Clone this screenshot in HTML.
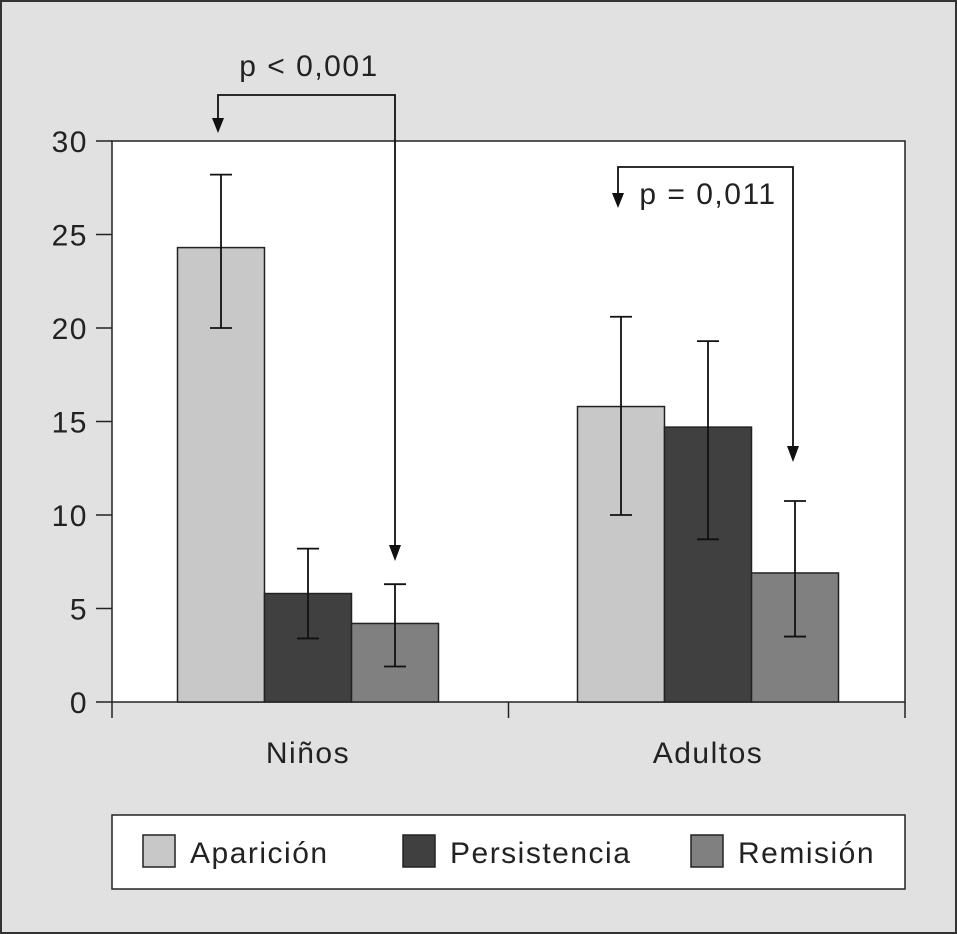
<!DOCTYPE html>
<html><head><meta charset="utf-8"><style>
html,body{margin:0;padding:0;background:#fff}
svg{display:block;font-family:"Liberation Sans",sans-serif}
text{letter-spacing:1.5px}
</style></head><body>
<svg id="chart" width="957" height="934" viewBox="0 0 957 934" xmlns="http://www.w3.org/2000/svg">
<rect x="1" y="1" width="955" height="932" fill="#e1e1e1" stroke="#333" stroke-width="2"/>
<rect x="112" y="141" width="793" height="561" fill="#fff" stroke="#222" stroke-width="1.5"/>
<g id="bars"></g>
<g id="axes"></g>
<g fill="none" stroke="#111" stroke-width="1.8">
<polyline points="218,131 218,95 395,95 395,558"/>
<path d="M212,118 L218,133 L224,118" fill="#111" stroke="none"/>
<path d="M389,545 L395,561 L401,545" fill="#111" stroke="none"/>
<polyline points="618,205 618,167 793,167 793,458"/>
<path d="M612,193 L618,208 L624,193" fill="#111" stroke="none"/>
<path d="M787,446 L793,462 L799,446" fill="#111" stroke="none"/>
</g>
<text x="309" y="76" font-size="30" text-anchor="middle" fill="#222">p &lt; 0,001</text>
<text x="708" y="204" font-size="30" text-anchor="middle" fill="#222">p = 0,011</text>
<g>
<rect x="112" y="815" width="793" height="74" fill="#fff" stroke="#222" stroke-width="1.5"/>
<rect x="143" y="835" width="32" height="32" fill="#c8c8c8" stroke="#222" stroke-width="1.5"/>
<text x="190" y="863" font-size="30" fill="#222">Aparición</text>
<rect x="403" y="835" width="32" height="32" fill="#404040" stroke="#222" stroke-width="1.5"/>
<text x="450" y="863" font-size="30" fill="#222">Persistencia</text>
<rect x="691" y="835" width="32" height="32" fill="#808080" stroke="#222" stroke-width="1.5"/>
<text x="738" y="863" font-size="30" fill="#222">Remisión</text>
</g>
</svg>
<script>
const categories=["Niños","Adultos"];
const seriesNames=["Aparición","Persistencia","Remisión"];
const aparicion=[24.3,15.8];
const persistencia=[5.8,14.7];
const remision=[4.2,6.9];
const errHigh=[[28.2,20.6],[8.2,19.3],[6.3,10.75]];
const errLow=[[20.0,10.0],[3.4,8.7],[1.9,3.5]];
const yTicks=[0,5,10,15,20,25,30];
const seriesVals=[aparicion,persistencia,remision];
const colors=["#c8c8c8","#404040","#808080"];
const NS="http://www.w3.org/2000/svg";
const y0=702,yTop=141,yMax=30,xL=112,xR=905,bw=87;
function y(v){return y0-(v/yMax)*(y0-yTop);}
function cx(i){return 308+400*i;}
function mk(t,a,p){const e=document.createElementNS(NS,t);for(const k in a)e.setAttribute(k,a[k]);p.appendChild(e);return e;}
const bars=document.getElementById('bars'),axes=document.getElementById('axes');
categories.forEach((c,i)=>{
  seriesVals.forEach((s,j)=>{
    const x=cx(i)+(j-1.5)*bw;
    const r=mk('rect',{x:x,y:y(s[i]),width:bw,height:y0-y(s[i]),fill:colors[j],stroke:'#222','stroke-width':1.5},bars);
    
    
    const m=x+bw/2;
    const g=mk('path',{d:`M${m},${y(errHigh[j][i])}V${y(errLow[j][i])}M${m-11},${y(errHigh[j][i])}H${m+11}M${m-11},${y(errLow[j][i])}H${m+11}`,stroke:'#111','stroke-width':1.8,fill:'none'},bars);
    
    
  });
  const t=mk('text',{x:cx(i),y:763,'font-size':30,'text-anchor':'middle',fill:'#222'},axes);
  t.textContent=c;
  
  
});
[xL,(xL+xR)/2,xR].forEach(x=>{
  const l=mk('line',{x1:x,x2:x,y1:y0,y2:y0+16,stroke:'#222','stroke-width':1.5},axes);
  
  
});
yTicks.forEach(v=>{
  const l=mk('line',{x1:xL-16,x2:xL,y1:y(v),y2:y(v),stroke:'#222','stroke-width':1.5},axes);
  
  
  const t=mk('text',{x:88,y:y(v)+11,'font-size':30,'text-anchor':'end',fill:'#222'},axes);
  t.textContent=v;
  
  
});
</script>
</body></html>
